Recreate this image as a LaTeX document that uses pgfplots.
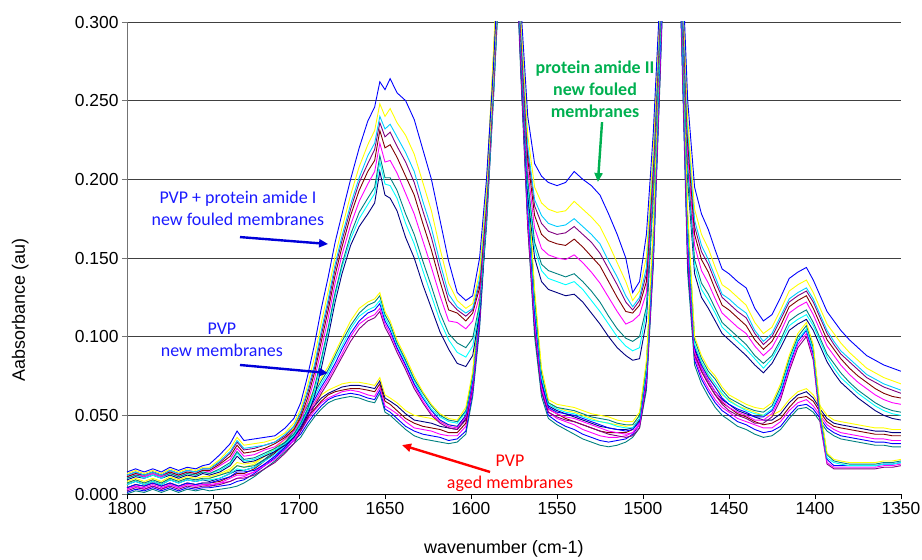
\documentclass[border=0pt]{standalone}
\usepackage{pgfplots}
\usepackage{pgfplotstable}
\pgfplotsset{compat=1.18}
\usetikzlibrary{arrows.meta}
\usepackage{fontspec}
\setmainfont{Liberation Sans}
\newfontfamily\calibri{Carlito}
\definecolor{xblue}{HTML}{0000FF}
\definecolor{xyellow}{HTML}{FFFF00}
\definecolor{xsky}{HTML}{00CCFF}
\definecolor{xpurple}{HTML}{800080}
\definecolor{xmaroon}{HTML}{800000}
\definecolor{xmagenta}{HTML}{FF00FF}
\definecolor{xteal}{HTML}{008080}
\definecolor{xcyan}{HTML}{00FFFF}
\definecolor{xnavy}{HTML}{000080}
\definecolor{xgreen}{HTML}{00B050}
\definecolor{xred}{HTML}{FF0000}
\definecolor{tblue}{HTML}{1A1AFF}
\pgfplotstableread{
x a1 a2 a3 a4 a5 a6 a7 a8 a9 b1 b2 b3 b4 b5 b6 c1 c2 c3 c4 c5 c6
1800 0.014 0.013 0.012 0.012 0.011 0.011 0.010 0.010 0.009 0.008 0.007 0.006 0.004 0.003 0.002 0.007 0.006 0.004 0.003 0.001 0.000
1795 0.016 0.015 0.014 0.014 0.013 0.013 0.012 0.012 0.011 0.010 0.009 0.008 0.006 0.005 0.004 0.009 0.008 0.006 0.005 0.003 0.002
1790 0.014 0.013 0.012 0.012 0.012 0.011 0.011 0.010 0.010 0.008 0.007 0.006 0.005 0.004 0.003 0.007 0.006 0.005 0.003 0.002 0.001
1785 0.016 0.015 0.014 0.014 0.014 0.013 0.013 0.012 0.012 0.010 0.009 0.008 0.007 0.006 0.005 0.009 0.008 0.007 0.005 0.004 0.003
1780 0.014 0.013 0.012 0.012 0.012 0.011 0.011 0.010 0.010 0.008 0.007 0.006 0.005 0.004 0.003 0.007 0.006 0.005 0.003 0.002 0.001
1775 0.017 0.016 0.015 0.015 0.014 0.014 0.013 0.013 0.012 0.011 0.010 0.009 0.007 0.006 0.005 0.010 0.009 0.007 0.006 0.004 0.003
1770 0.015 0.014 0.013 0.013 0.012 0.012 0.011 0.011 0.010 0.009 0.008 0.007 0.005 0.004 0.003 0.008 0.007 0.005 0.004 0.002 0.001
1765 0.017 0.016 0.015 0.015 0.014 0.014 0.013 0.013 0.012 0.011 0.010 0.009 0.007 0.006 0.005 0.010 0.009 0.007 0.006 0.004 0.003
1760 0.016 0.015 0.014 0.014 0.013 0.013 0.012 0.012 0.011 0.010 0.009 0.008 0.006 0.005 0.004 0.009 0.008 0.006 0.005 0.003 0.002
1756 0.018 0.017 0.016 0.016 0.015 0.015 0.014 0.014 0.013 0.011 0.010 0.009 0.007 0.006 0.005 0.010 0.009 0.007 0.006 0.004 0.003
1752 0.019 0.017 0.016 0.016 0.015 0.014 0.013 0.013 0.012 0.011 0.010 0.009 0.007 0.006 0.005 0.010 0.008 0.007 0.005 0.004 0.002
1746 0.025 0.022 0.021 0.020 0.019 0.018 0.016 0.015 0.014 0.013 0.012 0.010 0.009 0.007 0.006 0.012 0.010 0.008 0.007 0.005 0.003
1740 0.032 0.029 0.027 0.026 0.024 0.022 0.020 0.019 0.018 0.016 0.014 0.013 0.011 0.010 0.008 0.015 0.013 0.011 0.008 0.006 0.004
1736 0.040 0.036 0.034 0.033 0.031 0.029 0.027 0.026 0.024 0.020 0.018 0.016 0.014 0.012 0.010 0.018 0.015 0.013 0.010 0.008 0.005
1732 0.034 0.031 0.029 0.028 0.026 0.024 0.022 0.021 0.020 0.019 0.017 0.015 0.014 0.012 0.010 0.017 0.015 0.013 0.011 0.009 0.007
1726 0.035 0.032 0.030 0.029 0.027 0.025 0.023 0.022 0.021 0.020 0.018 0.017 0.015 0.014 0.012 0.019 0.017 0.016 0.014 0.013 0.011
1720 0.036 0.033 0.031 0.031 0.029 0.028 0.026 0.025 0.024 0.024 0.022 0.021 0.019 0.018 0.016 0.024 0.022 0.021 0.019 0.018 0.016
1714 0.037 0.035 0.033 0.033 0.032 0.030 0.029 0.028 0.027 0.029 0.027 0.025 0.024 0.022 0.020 0.029 0.027 0.026 0.024 0.023 0.021
1708 0.042 0.039 0.038 0.037 0.036 0.035 0.033 0.032 0.031 0.035 0.033 0.031 0.030 0.028 0.026 0.035 0.033 0.032 0.030 0.029 0.027
1703 0.048 0.045 0.043 0.043 0.041 0.040 0.038 0.037 0.036 0.042 0.040 0.038 0.036 0.034 0.032 0.040 0.038 0.037 0.035 0.034 0.032
1699 0.058 0.054 0.052 0.051 0.049 0.047 0.045 0.044 0.042 0.050 0.048 0.046 0.044 0.042 0.040 0.045 0.043 0.041 0.040 0.038 0.036
1695 0.075 0.069 0.066 0.064 0.061 0.058 0.054 0.053 0.050 0.058 0.056 0.054 0.052 0.050 0.048 0.053 0.051 0.049 0.047 0.045 0.043
1691 0.095 0.087 0.082 0.080 0.077 0.073 0.068 0.065 0.062 0.066 0.064 0.062 0.060 0.058 0.056 0.058 0.056 0.054 0.053 0.051 0.049
1687 0.118 0.109 0.104 0.101 0.097 0.092 0.086 0.084 0.080 0.074 0.072 0.070 0.068 0.066 0.064 0.063 0.061 0.059 0.058 0.056 0.054
1683 0.138 0.129 0.124 0.121 0.117 0.112 0.106 0.104 0.100 0.081 0.079 0.077 0.075 0.073 0.071 0.066 0.064 0.063 0.061 0.060 0.058
1679 0.160 0.151 0.146 0.143 0.139 0.134 0.128 0.126 0.122 0.090 0.088 0.086 0.083 0.081 0.079 0.068 0.066 0.065 0.063 0.062 0.060
1675 0.178 0.169 0.164 0.161 0.157 0.152 0.146 0.144 0.140 0.099 0.097 0.094 0.092 0.089 0.087 0.070 0.068 0.066 0.065 0.063 0.061
1670 0.200 0.190 0.184 0.181 0.177 0.171 0.165 0.162 0.158 0.110 0.107 0.105 0.102 0.100 0.097 0.071 0.069 0.067 0.066 0.064 0.062
1665 0.220 0.208 0.201 0.198 0.193 0.186 0.179 0.175 0.170 0.118 0.115 0.113 0.110 0.108 0.105 0.071 0.069 0.067 0.065 0.063 0.061
1660 0.237 0.222 0.215 0.210 0.205 0.197 0.188 0.184 0.178 0.122 0.120 0.117 0.115 0.112 0.110 0.070 0.068 0.066 0.063 0.061 0.059
1656 0.246 0.231 0.223 0.219 0.212 0.205 0.195 0.191 0.185 0.124 0.122 0.119 0.117 0.114 0.112 0.069 0.067 0.065 0.062 0.060 0.058
1653 0.262 0.248 0.240 0.236 0.231 0.223 0.215 0.211 0.205 0.128 0.126 0.123 0.121 0.118 0.116 0.074 0.072 0.070 0.068 0.066 0.064
1650 0.257 0.240 0.232 0.227 0.220 0.211 0.201 0.197 0.190 0.116 0.114 0.112 0.110 0.108 0.106 0.063 0.061 0.059 0.056 0.054 0.052
1647 0.264 0.245 0.235 0.230 0.222 0.212 0.201 0.196 0.188 0.110 0.108 0.106 0.104 0.102 0.100 0.061 0.059 0.057 0.054 0.052 0.050
1643 0.255 0.236 0.227 0.221 0.214 0.204 0.193 0.188 0.180 0.098 0.096 0.095 0.093 0.092 0.090 0.058 0.056 0.053 0.051 0.048 0.046
1638 0.250 0.228 0.217 0.211 0.202 0.191 0.178 0.172 0.163 0.087 0.085 0.084 0.082 0.081 0.079 0.053 0.051 0.048 0.046 0.043 0.041
1633 0.238 0.216 0.205 0.198 0.190 0.178 0.165 0.159 0.150 0.075 0.073 0.072 0.070 0.069 0.067 0.050 0.047 0.045 0.042 0.040 0.037
1628 0.219 0.198 0.186 0.180 0.172 0.161 0.148 0.142 0.133 0.065 0.064 0.062 0.061 0.059 0.058 0.049 0.046 0.043 0.041 0.038 0.035
1623 0.200 0.180 0.169 0.163 0.155 0.144 0.132 0.126 0.118 0.057 0.056 0.054 0.053 0.051 0.050 0.048 0.045 0.042 0.040 0.037 0.034
1618 0.174 0.156 0.147 0.142 0.135 0.126 0.115 0.110 0.103 0.051 0.050 0.049 0.047 0.046 0.045 0.046 0.043 0.041 0.038 0.036 0.033
1613 0.148 0.134 0.127 0.123 0.117 0.110 0.102 0.098 0.092 0.048 0.047 0.046 0.044 0.043 0.042 0.044 0.042 0.039 0.037 0.034 0.032
1608 0.128 0.123 0.119 0.117 0.115 0.109 0.096 0.090 0.083 0.047 0.046 0.045 0.043 0.042 0.041 0.043 0.041 0.039 0.037 0.035 0.033
1603 0.123 0.118 0.115 0.113 0.110 0.105 0.093 0.087 0.081 0.055 0.053 0.052 0.050 0.049 0.047 0.050 0.048 0.045 0.043 0.040 0.038
1599 0.126 0.121 0.118 0.117 0.115 0.110 0.099 0.094 0.088 0.078 0.076 0.074 0.072 0.070 0.068 0.075 0.072 0.070 0.067 0.065 0.062
1595 0.150 0.141 0.137 0.134 0.131 0.126 0.121 0.118 0.115 0.125 0.122 0.119 0.116 0.113 0.110 0.120 0.117 0.114 0.111 0.108 0.105
1591 0.200 0.193 0.189 0.187 0.184 0.180 0.175 0.173 0.170 0.195 0.192 0.189 0.186 0.183 0.180 0.190 0.187 0.184 0.181 0.178 0.175
1587 0.270 0.265 0.262 0.261 0.259 0.256 0.253 0.252 0.250 0.280 0.276 0.272 0.268 0.264 0.260 0.275 0.271 0.267 0.263 0.259 0.255
1583 0.360 0.355 0.352 0.351 0.349 0.346 0.343 0.342 0.340 0.370 0.366 0.362 0.358 0.354 0.350 0.365 0.361 0.357 0.353 0.349 0.345
1579 0.420 0.418 0.416 0.415 0.414 0.413 0.412 0.411 0.410 0.430 0.428 0.426 0.424 0.422 0.420 0.425 0.423 0.421 0.419 0.417 0.415
1575 0.400 0.395 0.392 0.391 0.389 0.386 0.383 0.382 0.380 0.400 0.396 0.392 0.388 0.384 0.380 0.395 0.391 0.387 0.383 0.379 0.375
1571 0.310 0.303 0.299 0.297 0.294 0.290 0.285 0.283 0.280 0.300 0.294 0.288 0.282 0.276 0.270 0.295 0.289 0.283 0.277 0.271 0.265
1567 0.240 0.228 0.221 0.218 0.213 0.206 0.199 0.195 0.190 0.200 0.194 0.188 0.182 0.176 0.170 0.200 0.194 0.188 0.182 0.176 0.170
1563 0.210 0.195 0.187 0.183 0.177 0.169 0.160 0.156 0.150 0.130 0.125 0.120 0.115 0.110 0.105 0.125 0.120 0.115 0.110 0.105 0.100
1559 0.202 0.185 0.177 0.172 0.165 0.156 0.146 0.142 0.135 0.080 0.077 0.074 0.071 0.068 0.065 0.075 0.072 0.070 0.067 0.065 0.062
1555 0.198 0.181 0.172 0.167 0.161 0.152 0.142 0.137 0.130 0.060 0.058 0.057 0.055 0.054 0.052 0.058 0.056 0.054 0.052 0.050 0.048
1550 0.196 0.179 0.170 0.165 0.159 0.150 0.140 0.135 0.128 0.057 0.055 0.054 0.052 0.051 0.049 0.055 0.053 0.051 0.048 0.046 0.044
1545 0.198 0.180 0.171 0.166 0.158 0.149 0.138 0.133 0.126 0.056 0.054 0.052 0.051 0.049 0.047 0.053 0.051 0.048 0.046 0.043 0.041
1540 0.205 0.186 0.175 0.170 0.162 0.152 0.140 0.135 0.127 0.055 0.053 0.051 0.050 0.048 0.046 0.052 0.049 0.046 0.044 0.041 0.038
1535 0.200 0.181 0.170 0.165 0.157 0.147 0.135 0.130 0.122 0.053 0.051 0.049 0.048 0.046 0.044 0.050 0.047 0.044 0.041 0.038 0.035
1530 0.196 0.176 0.165 0.160 0.151 0.141 0.129 0.123 0.115 0.051 0.049 0.047 0.046 0.044 0.042 0.048 0.045 0.042 0.039 0.036 0.033
1525 0.190 0.170 0.159 0.153 0.145 0.134 0.122 0.116 0.108 0.050 0.048 0.046 0.044 0.042 0.040 0.046 0.043 0.040 0.037 0.034 0.031
1520 0.178 0.159 0.148 0.143 0.135 0.125 0.113 0.108 0.100 0.049 0.047 0.045 0.042 0.040 0.038 0.045 0.042 0.039 0.036 0.033 0.030
1515 0.165 0.147 0.138 0.133 0.125 0.116 0.105 0.100 0.093 0.047 0.045 0.043 0.041 0.039 0.037 0.044 0.041 0.039 0.036 0.034 0.031
1510 0.150 0.135 0.126 0.122 0.116 0.108 0.099 0.094 0.088 0.046 0.044 0.042 0.040 0.038 0.036 0.043 0.041 0.039 0.037 0.035 0.033
1506 0.128 0.123 0.119 0.117 0.115 0.110 0.097 0.091 0.085 0.046 0.044 0.042 0.041 0.039 0.037 0.044 0.042 0.041 0.039 0.038 0.036
1502 0.135 0.129 0.125 0.123 0.120 0.114 0.100 0.093 0.086 0.052 0.050 0.048 0.046 0.044 0.042 0.050 0.048 0.047 0.045 0.044 0.042
1498 0.165 0.151 0.144 0.140 0.135 0.128 0.119 0.116 0.110 0.085 0.082 0.079 0.076 0.073 0.070 0.080 0.077 0.074 0.072 0.069 0.066
1494 0.230 0.220 0.215 0.212 0.208 0.203 0.197 0.194 0.190 0.170 0.166 0.162 0.158 0.154 0.150 0.165 0.161 0.157 0.153 0.149 0.145
1490 0.320 0.315 0.312 0.311 0.309 0.306 0.303 0.302 0.300 0.300 0.294 0.288 0.282 0.276 0.270 0.295 0.289 0.283 0.277 0.271 0.265
1486 0.420 0.415 0.412 0.411 0.409 0.406 0.403 0.402 0.400 0.420 0.416 0.412 0.408 0.404 0.400 0.415 0.411 0.407 0.403 0.399 0.395
1482 0.440 0.435 0.432 0.431 0.429 0.426 0.423 0.422 0.420 0.440 0.436 0.432 0.428 0.424 0.420 0.435 0.431 0.427 0.423 0.419 0.415
1478 0.360 0.353 0.349 0.347 0.344 0.340 0.335 0.333 0.330 0.340 0.334 0.328 0.322 0.316 0.310 0.335 0.329 0.323 0.317 0.311 0.305
1474 0.250 0.238 0.231 0.228 0.223 0.216 0.209 0.205 0.200 0.180 0.174 0.168 0.162 0.156 0.150 0.170 0.164 0.158 0.152 0.146 0.140
1470 0.195 0.181 0.174 0.170 0.165 0.158 0.149 0.145 0.140 0.100 0.098 0.095 0.093 0.090 0.088 0.095 0.092 0.090 0.087 0.085 0.082
1466 0.178 0.165 0.158 0.154 0.149 0.142 0.134 0.130 0.125 0.088 0.086 0.084 0.082 0.080 0.078 0.083 0.080 0.078 0.075 0.073 0.070
1462 0.168 0.156 0.149 0.146 0.141 0.134 0.127 0.123 0.118 0.080 0.078 0.076 0.074 0.072 0.070 0.075 0.072 0.070 0.067 0.065 0.062
1458 0.155 0.144 0.138 0.135 0.130 0.124 0.118 0.115 0.110 0.075 0.073 0.070 0.068 0.065 0.063 0.068 0.065 0.063 0.060 0.058 0.055
1454 0.143 0.133 0.127 0.125 0.120 0.115 0.109 0.106 0.102 0.068 0.066 0.064 0.061 0.059 0.057 0.063 0.060 0.058 0.055 0.053 0.050
1450 0.140 0.130 0.124 0.121 0.117 0.111 0.105 0.102 0.098 0.063 0.061 0.059 0.057 0.055 0.053 0.060 0.057 0.055 0.052 0.050 0.047
1445 0.135 0.125 0.119 0.116 0.112 0.106 0.100 0.097 0.093 0.060 0.058 0.056 0.054 0.052 0.050 0.056 0.053 0.051 0.048 0.046 0.043
1440 0.131 0.120 0.115 0.112 0.107 0.102 0.095 0.092 0.088 0.057 0.055 0.053 0.052 0.050 0.048 0.054 0.051 0.049 0.046 0.044 0.041
1435 0.118 0.109 0.104 0.102 0.098 0.094 0.088 0.086 0.082 0.055 0.053 0.051 0.049 0.047 0.045 0.052 0.049 0.046 0.044 0.041 0.038
1430 0.110 0.102 0.097 0.095 0.092 0.088 0.083 0.080 0.077 0.054 0.052 0.050 0.049 0.047 0.045 0.050 0.047 0.044 0.042 0.039 0.036
1425 0.114 0.106 0.102 0.100 0.097 0.093 0.088 0.086 0.083 0.058 0.056 0.054 0.053 0.051 0.049 0.050 0.047 0.045 0.042 0.040 0.037
1420 0.125 0.117 0.113 0.111 0.107 0.103 0.098 0.096 0.093 0.070 0.068 0.066 0.064 0.062 0.060 0.053 0.051 0.048 0.046 0.043 0.041
1415 0.137 0.129 0.124 0.122 0.119 0.115 0.110 0.107 0.104 0.088 0.086 0.084 0.082 0.080 0.078 0.060 0.058 0.055 0.053 0.050 0.048
1410 0.141 0.133 0.128 0.126 0.123 0.119 0.114 0.111 0.108 0.102 0.100 0.098 0.097 0.095 0.093 0.065 0.063 0.061 0.058 0.056 0.054
1405 0.144 0.136 0.131 0.129 0.126 0.122 0.117 0.114 0.111 0.109 0.107 0.105 0.104 0.102 0.100 0.067 0.065 0.062 0.060 0.057 0.055
1401 0.136 0.128 0.124 0.122 0.118 0.114 0.109 0.107 0.104 0.095 0.093 0.091 0.089 0.087 0.085 0.063 0.061 0.059 0.056 0.054 0.052
1397 0.126 0.118 0.114 0.112 0.108 0.104 0.099 0.097 0.094 0.055 0.053 0.051 0.049 0.047 0.045 0.056 0.054 0.052 0.050 0.048 0.046
1393 0.116 0.108 0.104 0.102 0.098 0.094 0.089 0.087 0.084 0.026 0.025 0.023 0.022 0.020 0.019 0.050 0.048 0.046 0.044 0.042 0.040
1389 0.110 0.102 0.097 0.095 0.092 0.088 0.083 0.080 0.077 0.022 0.021 0.020 0.018 0.017 0.016 0.047 0.045 0.043 0.041 0.039 0.037
1385 0.104 0.096 0.091 0.089 0.086 0.082 0.077 0.074 0.071 0.021 0.020 0.019 0.018 0.017 0.016 0.046 0.044 0.042 0.039 0.037 0.035
1380 0.098 0.090 0.086 0.084 0.080 0.076 0.071 0.069 0.066 0.020 0.019 0.018 0.018 0.017 0.016 0.045 0.043 0.041 0.038 0.036 0.034
1375 0.093 0.085 0.081 0.079 0.075 0.071 0.066 0.064 0.061 0.020 0.019 0.018 0.018 0.017 0.016 0.044 0.042 0.040 0.037 0.035 0.033
1370 0.088 0.080 0.076 0.074 0.071 0.067 0.062 0.060 0.057 0.020 0.019 0.018 0.018 0.017 0.016 0.043 0.041 0.039 0.036 0.034 0.032
1365 0.085 0.077 0.073 0.071 0.067 0.063 0.058 0.056 0.053 0.020 0.019 0.018 0.018 0.017 0.016 0.042 0.040 0.038 0.035 0.033 0.031
1360 0.082 0.074 0.070 0.068 0.064 0.060 0.055 0.053 0.050 0.021 0.020 0.019 0.019 0.018 0.017 0.042 0.040 0.038 0.035 0.033 0.031
1355 0.080 0.072 0.068 0.066 0.062 0.058 0.053 0.051 0.048 0.021 0.020 0.019 0.019 0.018 0.017 0.041 0.039 0.037 0.034 0.032 0.030
1350 0.078 0.070 0.066 0.064 0.061 0.057 0.052 0.050 0.047 0.022 0.021 0.020 0.020 0.019 0.018 0.041 0.039 0.037 0.034 0.032 0.030
}\spectra
\begin{document}
\begin{tikzpicture}
\useasboundingbox (-127bp,-66bp) rectangle (795bp,494bp);
\begin{axis}[
  at={(0,0)}, anchor=south west,
  scale only axis, width=774bp, height=472bp,
  x dir=reverse, xmin=1350, xmax=1800, ymin=0, ymax=0.3,
  xtick={1350,1400,...,1800}, ytick={0,0.05,...,0.301},
  axis x line*=bottom, axis y line*=left,
  x axis line style={black, line width=0.8bp, -},
  y axis line style={black!55, line width=0.8bp, -},
  tick align=outside, major tick length=5bp,
  xtick style={black, line width=0.8bp},
  ytick style={black!55, line width=0.8bp},
  ymajorgrids, grid style={black!75, line width=0.8bp},
  scaled y ticks=false,
  /pgf/number format/1000 sep={},
  tick label style={font=\fontsize{17.5}{20}\selectfont, /pgf/number format/assume math mode=true},
  yticklabel style={/pgf/number format/fixed, /pgf/number format/fixed zerofill, /pgf/number format/precision=3},
  label style={font=\fontsize{18}{21}\selectfont},
  xlabel={wavenumber (cm-1)}, ylabel={Aabsorbance (au)},
  xlabel style={at={(axis description cs:0.487,-0.1165)}, anchor=center},
  ylabel style={at={(axis description cs:-0.138,0.39)}, anchor=center},
  clip mode=individual,
  every axis plot/.append style={line width=0.9bp, no markers},
]
% aged
\addplot[xteal] table[x=x,y=c6]{\spectra};
\addplot[xblue] table[x=x,y=c5]{\spectra};
\addplot[xmagenta] table[x=x,y=c4]{\spectra};
\addplot[xmaroon] table[x=x,y=c3]{\spectra};
\addplot[xnavy] table[x=x,y=c2]{\spectra};
\addplot[xyellow] table[x=x,y=c1]{\spectra};
% new
\addplot[xpurple] table[x=x,y=b6]{\spectra};
\addplot[xmagenta] table[x=x,y=b5]{\spectra};
\addplot[xblue] table[x=x,y=b4]{\spectra};
\addplot[xcyan] table[x=x,y=b3]{\spectra};
\addplot[xteal] table[x=x,y=b2]{\spectra};
\addplot[xyellow] table[x=x,y=b1]{\spectra};
% fouled
\addplot[xnavy] table[x=x,y=a9]{\spectra};
\addplot[xcyan] table[x=x,y=a8]{\spectra};
\addplot[xteal] table[x=x,y=a7]{\spectra};
\addplot[xmagenta] table[x=x,y=a6]{\spectra};
\addplot[xmaroon] table[x=x,y=a5]{\spectra};
\addplot[xpurple] table[x=x,y=a4]{\spectra};
\addplot[xsky] table[x=x,y=a3]{\spectra};
\addplot[xyellow] table[x=x,y=a2]{\spectra};
\addplot[xblue] table[x=x,y=a1]{\spectra};
% annotations
\node[text=tblue, align=center, font=\calibri\fontsize{18}{22}\selectfont] at (axis cs:1735.5,0.1815) {PVP + protein amide I\\new fouled membranes};
\draw[-{Triangle[length=9bp,width=8bp]}, line width=2.4bp, xblue!85!black] (axis cs:1734.3,0.1633) -- (axis cs:1683.1,0.1589);
\node[text=tblue, align=center, font=\calibri\fontsize{18}{22}\selectfont] at (axis cs:1744.8,0.0982) {PVP\\new membranes};
\draw[-{Triangle[length=9bp,width=8bp]}, line width=2.4bp, xblue!85!black] (axis cs:1734.3,0.0820) -- (axis cs:1683.1,0.0769);
\node[text=xred, align=center, font=\calibri\fontsize{18}{22}\selectfont] at (axis cs:1577.3,0.0130) {PVP\\aged membranes};
\draw[-{Triangle[length=9bp,width=8bp]}, line width=2.4bp, xred] (axis cs:1588.9,0.0140) -- (axis cs:1640.1,0.0311);
\node[text=xgreen, align=center, font=\calibri\bfseries\fontsize{18}{22}\selectfont] at (axis cs:1527.9,0.2574) {protein amide II\\new fouled\\membranes};
\draw[-{Triangle[length=9bp,width=8bp]}, line width=2.4bp, xgreen] (axis cs:1523.8,0.2364) -- (axis cs:1526.2,0.1983);
\end{axis}
\end{tikzpicture}
\end{document}
